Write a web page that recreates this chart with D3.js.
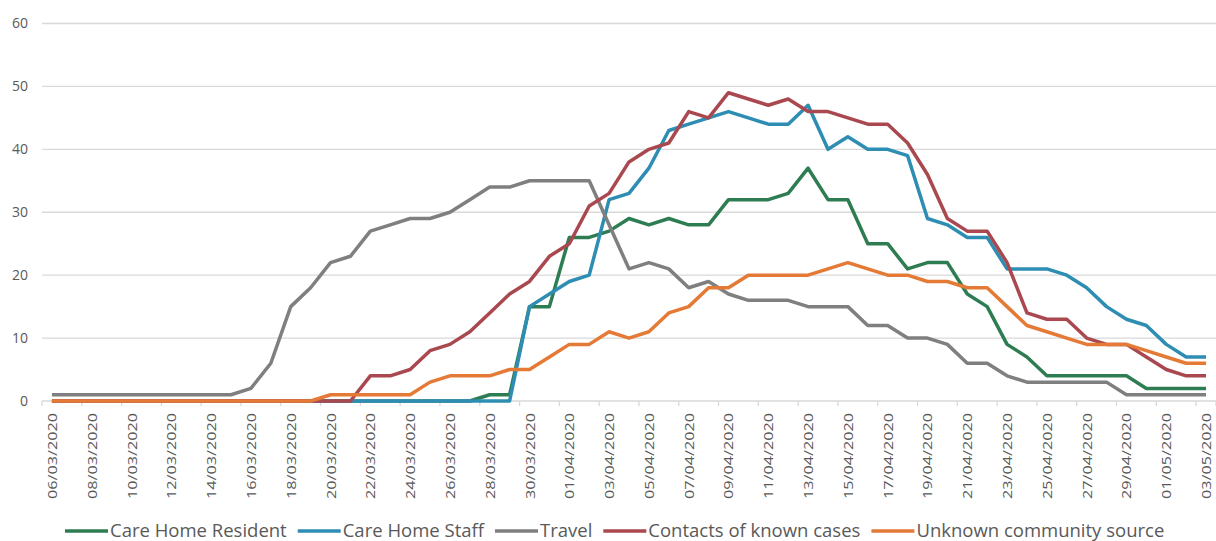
<!DOCTYPE html>
<html>
<head>
<meta charset="utf-8">
<script src="https://cdn.jsdelivr.net/npm/d3@7"></script>
<style>
  body { margin: 0; background: #fff; }
  svg { display: block; }
  text { font-family: "Open Sans", "Noto Sans", sans-serif; fill: #595959; }
</style>
</head>
<body>
<div id="chart"></div>
<script>
// dates 06/03/2020 .. 03/05/2020, one point per day
const startDate = new Date(2020, 2, 6);
const dates = d3.range(59).map(i => d3.timeDay.offset(startDate, i));
const fmt = d3.timeFormat('%d/%m/%Y');

const careHomeResident = [0,0,0,0,0,0,0,0,0,0, 0,0,0,0,0,0,0,0,0,0,
  0,0,1,1,15,15,26,26,27,29, 28,29,28,28,32,32,32,33,37,32,
  32,25,25,21,22,22,17,15,9,7, 4,4,4,4,4,2,2,2,2];
const careHomeStaff = [0,0,0,0,0,0,0,0,0,0, 0,0,0,0,0,0,0,0,0,0,
  0,0,0,0,15,17,19,20,32,33, 37,43,44,45,46,45,44,44,47,40,
  42,40,40,39,29,28,26,26,21,21, 21,20,18,15,13,12,9,7,7];
const travel = [1,1,1,1,1,1,1,1,1,1, 2,6,15,18,22,23,27,28,29,29,
  30,32,34,34,35,35,35,35,28,21, 22,21,18,19,17,16,16,16,15,15,
  15,12,12,10,10,9,6,6,4,3, 3,3,3,3,1,1,1,1,1];
const contacts = [0,0,0,0,0,0,0,0,0,0, 0,0,0,0,0,0,4,4,5,8,
  9,11,14,17,19,23,25,31,33,38, 40,41,46,45,49,48,47,48,46,46,
  45,44,44,41,36,29,27,27,22,14, 13,13,10,9,9,7,5,4,4];
const unknownCommunity = [0,0,0,0,0,0,0,0,0,0, 0,0,0,0,1,1,1,1,1,3,
  4,4,4,5,5,7,9,9,11,10, 11,14,15,18,18,20,20,20,20,21,
  22,21,20,20,19,19,18,18,15,12, 11,10,9,9,9,8,7,6,6];

const seriesNames = ['Care Home Resident', 'Care Home Staff', 'Travel', 'Contacts of known cases', 'Unknown community source'];
const seriesColors = ['#2e7d52', '#2e8db3', '#7f7f7f', '#a9484f', '#e57a36'];
const yTicks = [0, 10, 20, 30, 40, 50, 60];

const series = [careHomeResident, careHomeStaff, travel, contacts, unknownCommunity]
  .map((values, k) => ({ name: seriesNames[k], color: seriesColors[k], values }));

const width = 1216, height = 541;
const margin = { top: 23.5, right: 0, bottom: 140, left: 42 };

const svg = d3.select('#chart').append('svg')
  .attr('width', width)
  .attr('height', height);

const x = d3.scaleBand()
  .domain(dates)
  .range([margin.left, width - margin.right])
  .paddingInner(0)
  .paddingOuter(0);

const y = d3.scaleLinear()
  .domain([0, 60])
  .range([height - margin.bottom, margin.top]);

// gridlines
svg.append('g')
  .selectAll('line')
  .data(yTicks)
  .enter()
  .append('line')
  .attr('x1', margin.left)
  .attr('x2', width - margin.right)
  .attr('y1', d => y(d))
  .attr('y2', d => y(d))
  .attr('stroke', '#d9d9d9')
  .attr('stroke-width', 1.3);

// y labels
svg.append('g')
  .selectAll('text')
  .data(yTicks)
  .enter()
  .append('text')
  .attr('x', 28)
  .attr('y', d => y(d))
  .attr('dy', '0.35em')
  .attr('text-anchor', 'end')
  .style('font-size', '14px')
  .text(d => d);

// x tick marks, every two categories
const tickDates = dates.filter((d, i) => i % 2 === 0);
svg.append('g')
  .selectAll('line')
  .data(tickDates.concat([null]))
  .enter()
  .append('line')
  .attr('x1', d => d ? x(d) : x.range()[1])
  .attr('x2', d => d ? x(d) : x.range()[1])
  .attr('y1', y(0))
  .attr('y2', y(0) + 5)
  .attr('stroke', '#d9d9d9')
  .attr('stroke-width', 1.3);

// x labels
svg.append('g')
  .selectAll('text')
  .data(tickDates)
  .enter()
  .append('text')
  .attr('transform', d => `translate(${x(d) + x.bandwidth() / 2 + 5},${y(0) + 12}) rotate(-90)`)
  .attr('text-anchor', 'end')
  .attr('textLength', 86)
  .attr('lengthAdjust', 'spacingAndGlyphs')
  .style('font-size', '13px')
  .text(d => fmt(d));

// lines
const line = d3.line()
  .x((v, i) => x(dates[i]) + x.bandwidth() / 2)
  .y(v => y(v));

svg.append('g')
  .selectAll('path')
  .data(series)
  .enter()
  .append('path')
  .attr('d', d => line(d.values))
  .attr('fill', 'none')
  .attr('stroke', d => d.color)
  .attr('stroke-width', 3.5)
  .attr('stroke-linejoin', 'round');

// legend
const legend = svg.append('g');
let lx = 65;
const ly = 531;
series.forEach(s => {
  legend.append('line')
    .attr('x1', lx)
    .attr('x2', lx + 43)
    .attr('y1', ly)
    .attr('y2', ly)
    .attr('stroke', s.color)
    .attr('stroke-width', 3.5);
  const t = legend.append('text')
    .attr('x', lx + 45)
    .attr('y', ly)
    .attr('dy', '0.35em')
    .style('font-size', '18.5px')
    .text(s.name);
  lx += 45 + t.node().getComputedTextLength() + 11;
});
</script>
</body>
</html>
